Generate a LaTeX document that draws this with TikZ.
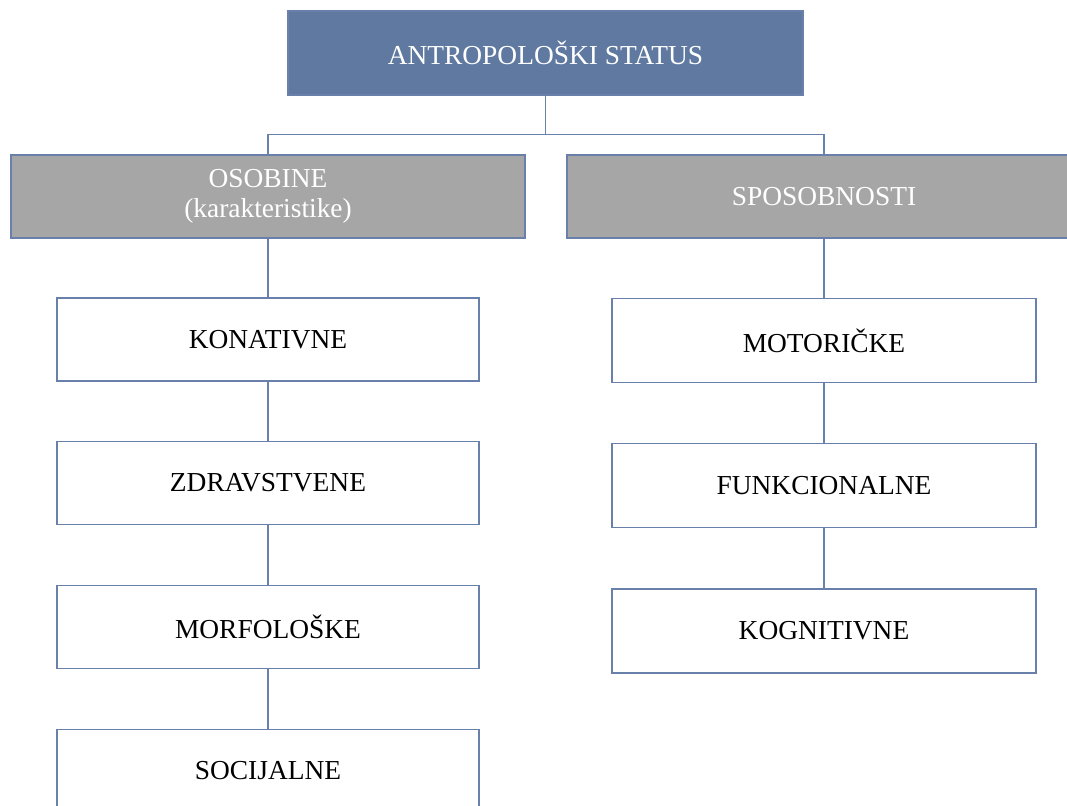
\documentclass[tikz,border=0pt]{standalone}
\usepackage{fontspec}
\setmainfont{Liberation Serif}
\usepackage{tikz}
\usetikzlibrary{calc}

\definecolor{linecol}{RGB}{104,128,170}
\definecolor{topfill}{RGB}{95,121,160}
\definecolor{grayfill}{RGB}{166,166,166}

\tikzset{
  box/.style={draw=linecol, line width=1pt, align=center, inner sep=0pt,
    font=\fontsize{19.5}{21.5}\selectfont},
  topbox/.style={box, fill=topfill, text=white, minimum width=12.875cm, minimum height=2.1cm},
  groupbox/.style={box, fill=grayfill, text=white, minimum width=12.85cm, minimum height=2.075cm},
  leftbox/.style={box, fill=white, minimum width=10.55cm, minimum height=2.075cm},
  rightbox/.style={box, fill=white, minimum width=10.6cm, minimum height=2.1cm},
  link/.style={draw=linecol, line width=1pt}
}

\begin{document}
\begin{tikzpicture}[x=0.025cm, y=-0.025cm]
        \clip (0,0) rectangle (1067,806);

        \node[topbox] (status) at (545.5,53) {ANTROPOLOŠKI STATUS};

        \node[groupbox] (osobine) at (268,196.5) {OSOBINE\\(karakteristike)};
        \node[groupbox] (sposobnosti) at (824,196.5) {SPOSOBNOSTI};

        \draw[link] (status.south) -- ++(0,39) -| (osobine.north);
        \draw[link] (status.south) ++(0,39) -| (sposobnosti.north);


        \node[leftbox] (konativne) at (268,339.5) {KONATIVNE};
        \node[leftbox] (zdravstvene) at (268,483) {ZDRAVSTVENE};
        \node[leftbox] (morfoloske) at (268,627) {MORFOLOŠKE};
        \node[leftbox] (socijalne) at (268,771) {SOCIJALNE};

        \draw[link] (osobine) -- (konativne);
        \draw[link] (konativne) -- (zdravstvene);
        \draw[link] (zdravstvene) -- (morfoloske);
        \draw[link] (morfoloske) -- (socijalne);


        \node[rightbox] (motoricke) at (824,340.5) {MOTORIČKE};
        \node[rightbox] (funkcionalne) at (824,485.5) {FUNKCIONALNE};
        \node[rightbox] (kognitivne) at (824,631) {KOGNITIVNE};

        \draw[link] (sposobnosti) -- (motoricke);
        \draw[link] (motoricke) -- (funkcionalne);
        \draw[link] (funkcionalne) -- (kognitivne);

    \end{tikzpicture}
\end{document}
